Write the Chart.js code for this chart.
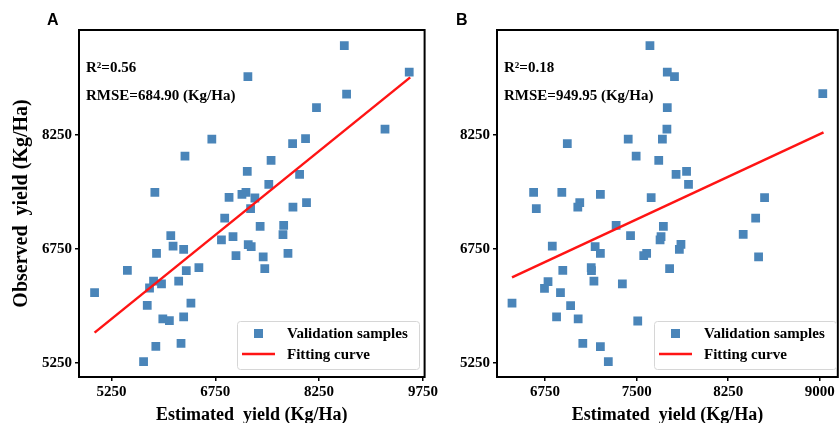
<!DOCTYPE html>
<html>
<head>
<meta charset="utf-8">
<script src="https://cdn.jsdelivr.net/npm/chart.js@4.4.1/dist/chart.umd.min.js"></script>
<style>
  html, body { margin: 0; padding: 0; background: #fff; overflow: hidden; }
  #wrap { position: relative; width: 840px; height: 423px; overflow: hidden; }
  .panel { position: absolute; top: 0; height: 423px; }
  .tag { position: absolute; top: 12px; font: bold 16px/16px "Liberation Sans", Arial, sans-serif; color: #000; }
</style>
</head>
<body>
<div id="wrap">
  <div class="panel" style="left:0;width:440px"><canvas id="chartA" width="440" height="423"></canvas></div>
  <div class="panel" style="left:440px;width:404px"><canvas id="chartB" width="404" height="423"></canvas></div>
  <div class="tag" style="left:47px">A</div>
  <div class="tag" style="left:456px">B</div>
</div>
<script>
// ── Data: panel A ──
const estA = [8614, 9552, 7221, 8647, 8212, 9202, 6700, 8054, 7867, 6312,
              7556, 7212, 7968, 7523, 5877, 7193, 7135, 6949, 7322, 8068,
              7872, 7260, 6886, 7738, 7398, 7728, 6107, 7006, 6839, 6140,
              7226, 7269, 6293, 5901, 7800, 7049, 7442, 7465, 6513, 5480,
              6331, 6221, 5858, 5973, 5800, 5006, 6398, 5767, 5992, 6087,
              6293, 6255, 5891, 5714];
const obsA = [9427, 9080, 9019, 8790, 8610, 8329, 8197, 8202, 8136, 7973,
              7916, 7771, 7732, 7600, 7495, 7495, 7468, 7429, 7420, 7358,
              7301, 7279, 7156, 7060, 7047, 6937, 6924, 6910, 6867, 6787,
              6805, 6779, 6744, 6691, 6691, 6660, 6643, 6489, 6502, 6467,
              6462, 6326, 6326, 6287, 6234, 6173, 6036, 6006, 5826, 5804,
              5852, 5505, 5465, 5263];
const fitAx = [5006, 9566];
const fitAy = [5646, 9010];

// ── Data: panel B ──
const estB = [7609, 7751, 7810, 9025, 7751, 7748, 7431, 7711, 6932, 7496,
              7681, 7909, 7823, 7925, 6656, 6887, 7203, 7619, 8548, 7034,
              7018, 6678, 8475, 7332, 7719, 8373, 7450, 7700, 7692, 6809,
              7160, 7863, 7850, 7203, 7582, 7558, 8499, 6895, 7128, 7130,
              7770, 7150, 6774, 7383, 6745, 6876, 6479, 6959, 6844, 7021,
              7509, 7059, 7203, 7268];
const obsB = [9427, 9080, 9019, 8795, 8610, 8329, 8197, 8197, 8136, 7973,
              7916, 7771, 7732, 7600, 7495, 7495, 7468, 7424, 7424, 7358,
              7301, 7279, 7156, 7060, 7047, 6941, 6924, 6910, 6867, 6787,
              6779, 6809, 6744, 6691, 6691, 6660, 6643, 6467, 6502, 6462,
              6489, 6326, 6318, 6287, 6230, 6173, 6036, 6001, 5852, 5826,
              5799, 5505, 5461, 5263];
const fitBx = [6479, 9031];
const fitBy = [6375, 8285];

// ── Ticks ──
const xTicksA = [5250, 6750, 8250, 9750];
const xTicksB = [6750, 7500, 8250, 9000];
const yTicks  = [5250, 6750, 8250];

const SERIF  = "'Liberation Serif', 'Times New Roman', serif";
const BLUE   = '#4a85b9';
const RED    = '#ff1414';

function toPoints(xs, ys) {
  return xs.map(function(x, i) { return { x: x, y: ys[i] }; });
}

function plainTick(value) {
  return String(value);
}

// ── Frame, notes and legend drawn inside the plot ──
const framePlugin = {
  id: 'frameNotes',
  afterDatasetsDraw: function(chart, args, opts) {
    var ctx = chart.ctx;
    var a   = chart.chartArea;
    ctx.save();

    ctx.strokeStyle = '#000';
    ctx.lineWidth   = 2;
    ctx.strokeRect(a.left, a.top, a.right - a.left, a.bottom - a.top);

    ctx.fillStyle    = '#000';
    ctx.font         = 'bold 15px ' + SERIF;
    ctx.textBaseline = 'middle';
    ctx.textAlign    = 'left';
    ctx.fillText(opts.r2,   a.left + 7, a.top + 38);
    ctx.fillText(opts.rmse, a.left + 7, a.top + 66);

    // legend box
    var w = 182, h = 48;
    var bx = opts.legendRight - w, by = a.bottom - 8 - h;
    ctx.fillStyle   = 'rgba(255,255,255,0.85)';
    ctx.strokeStyle = '#d6d6d6';
    ctx.lineWidth   = 1;
    ctx.beginPath();
    ctx.roundRect(bx + 0.5, by + 0.5, w, h, 3);
    ctx.fill();
    ctx.stroke();

    ctx.fillStyle = BLUE;
    ctx.fillRect(bx + 17, by + 8, 9, 9);

    ctx.strokeStyle = RED;
    ctx.lineWidth   = 2.5;
    ctx.beginPath();
    ctx.moveTo(bx + 5, by + 33);
    ctx.lineTo(bx + 38, by + 33);
    ctx.stroke();

    ctx.fillStyle = '#000';
    ctx.font      = 'bold 15px ' + SERIF;
    ctx.fillText('Validation samples', bx + 50, by + 13);
    ctx.fillText('Fitting curve',      bx + 50, by + 34);

    ctx.restore();
  }
};

function buildChart(id, cfg) {
  var ctx = document.getElementById(id).getContext('2d');
  return new Chart(ctx, {
    type : 'scatter',
    data : {
      datasets : [{
        type        : 'line',
        data        : toPoints(cfg.fitX, cfg.fitY),
        borderColor : RED,
        borderWidth : 2.5,
        pointRadius : 0,
        fill        : false,
        order       : 0,
      }, {
        data            : toPoints(cfg.est, cfg.obs),
        backgroundColor : BLUE,
        borderWidth     : 0,
        pointStyle      : 'rect',
        pointRadius     : 6.2,
        order           : 1,
      }],
    },
    options : {
      responsive       : false,
      devicePixelRatio : 1,
      animation        : false,
      events           : [],
      layout : { padding: { top: 30, right: cfg.padRight, left: 0, bottom: 0 } },
      plugins : {
        legend  : { display: false },
        tooltip : { enabled: false },
        frameNotes : { r2: cfg.r2, rmse: cfg.rmse, legendRight: cfg.legendRight },
      },
      scales : {
        x : {
          type   : 'linear',
          min    : cfg.xMin,
          max    : cfg.xMax,
          border : { display: false },
          grid   : { drawOnChartArea: false, drawTicks: true, tickLength: 4, color: '#000', lineWidth: 1.5 },
          ticks  : { color: '#000', padding: 2, maxRotation: 0, callback: plainTick,
                     font: { family: SERIF, size: 15, weight: 'bold' } },
          afterBuildTicks : function(scale) { scale.ticks = cfg.xTicks.map(function(v) { return { value: v }; }); },
          afterFit        : function(scale) { scale.height = 46; },
          title : {
            display : true,
            text    : 'Estimated  yield (Kg/Ha)',
            color   : '#000',
            padding : 0,
            font    : { family: SERIF, size: 18, weight: 'bold', lineHeight: 0.9 },
          },
        },
        y : {
          type   : 'linear',
          min    : 5061,
          max    : 9634,
          border : { display: false },
          grid   : { drawOnChartArea: false, drawTicks: true, tickLength: 4, color: '#000', lineWidth: 1.5 },
          ticks  : { color: '#000', padding: 3, callback: plainTick,
                     font: { family: SERIF, size: 15, weight: 'bold' } },
          afterBuildTicks : function(scale) { scale.ticks = yTicks.map(function(v) { return { value: v }; }); },
          afterFit        : function(scale) { scale.width = cfg.yWidth; },
          title : {
            display : cfg.yTitle,
            text    : 'Observed  yield (Kg/Ha)',
            color   : '#000',
            padding : { top: 12 },
            font    : { family: SERIF, size: 20, weight: 'bold', lineHeight: 1 },
          },
        },
      },
    },
    plugins : [framePlugin],
  });
}

buildChart('chartA', {
  est : estA, obs : obsA, fitX : fitAx, fitY : fitAy,
  xMin : 4781, xMax : 9774, xTicks : xTicksA,
  padRight : 13, yWidth : 79, yTitle : true, legendRight : 419,
  r2 : 'R\u00B2=0.56', rmse : 'RMSE=684.90 (Kg/Ha)',
});

buildChart('chartB', {
  est : estB, obs : obsB, fitX : fitBx, fitY : fitBy,
  xMin : 6356, xMax : 9148, xTicks : xTicksB,
  padRight : 0, yWidth : 57, yTitle : false, legendRight : 396,
  r2 : 'R\u00B2=0.18', rmse : 'RMSE=949.95 (Kg/Ha)',
});
</script>
</body>
</html>
